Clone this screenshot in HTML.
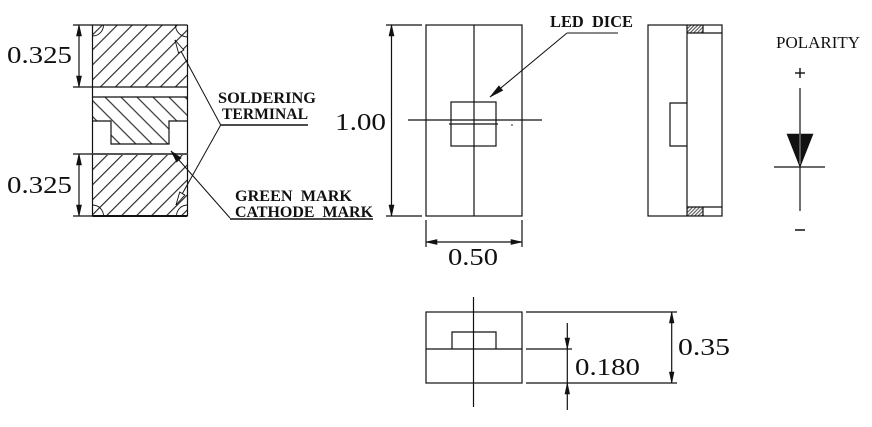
<!DOCTYPE html>
<html><head><meta charset="utf-8"><style>
html,body{margin:0;padding:0;background:#fff;}
svg{display:block;}
</style></head><body>
<svg width="872" height="427" viewBox="0 0 872 427" xmlns="http://www.w3.org/2000/svg">
<defs>
<pattern id="hf" patternUnits="userSpaceOnUse" width="10.6" height="10.6" patternTransform="rotate(45)">
<line x1="5.3" y1="0" x2="5.3" y2="10.6" stroke="#222" stroke-width="1.1"/>
</pattern>
<pattern id="hb" patternUnits="userSpaceOnUse" width="11.3" height="11.3" patternTransform="rotate(-45)">
<line x1="5.6" y1="0" x2="5.6" y2="11.3" stroke="#222" stroke-width="1.1"/>
</pattern>
<pattern id="hs" patternUnits="userSpaceOnUse" width="2.5" height="2.5" patternTransform="rotate(45)">
<line x1="1.25" y1="0" x2="1.25" y2="2.5" stroke="#333" stroke-width="0.9"/>
</pattern>
</defs>

<g fill="none" stroke="#111" stroke-width="1.2">
<!-- LEFT COMPONENT -->
<rect x="92.5" y="25" width="95" height="62" fill="url(#hf)" stroke="none"/>
<path d="M92.5,97 H187.5 V121 H169 V144 H111 V121 H92.5 Z" fill="url(#hb)" stroke="none"/>
<rect x="92.5" y="154" width="95" height="62" fill="url(#hf)" stroke="none"/>
<line x1="92.5" y1="25" x2="92.5" y2="216"/>
<line x1="187.5" y1="25" x2="187.5" y2="216"/>
<line x1="92.5" y1="25" x2="187.5" y2="25"/>
<line x1="92.5" y1="87" x2="187.5" y2="87"/>
<line x1="92.5" y1="97" x2="187.5" y2="97"/>
<path d="M92.5,121 H111 V144 H169 V121 H187.5"/>
<line x1="92.5" y1="154" x2="187.5" y2="154" stroke="#555" stroke-width="2"/>
<line x1="92.5" y1="216" x2="187.5" y2="216" stroke-width="2"/>
<!-- corner arcs -->
<path d="M92.5,36 A11,11 0 0 0 103.5,25" stroke-width="0.9"/>
<path d="M175.5,25 A12,12 0 0 0 187.5,37" stroke-width="0.9"/>
<path d="M92.5,205 A11,11 0 0 1 103.5,216" stroke-width="0.9"/>
<path d="M176.5,216 A11,11 0 0 1 187.5,205" stroke-width="0.9"/>

<!-- 0.325 dims -->
<line x1="73" y1="25" x2="92.5" y2="25"/>
<line x1="73" y1="87" x2="92.5" y2="87"/>
<line x1="79" y1="25" x2="79" y2="87"/>
<line x1="73" y1="154" x2="92.5" y2="154"/>
<line x1="73" y1="216" x2="92.5" y2="216"/>
<line x1="79" y1="154" x2="79" y2="216"/>

<!-- leaders -->
<line x1="175" y1="40" x2="220.7" y2="125" stroke-width="1"/>
<line x1="176" y1="205" x2="220.7" y2="125" stroke-width="1"/>
<line x1="220.7" y1="125" x2="308" y2="125" stroke-width="1.5"/>
<line x1="171" y1="151" x2="230" y2="218" stroke-width="1"/>
<line x1="230" y1="219" x2="373" y2="219" stroke-width="1.5"/>

<!-- FRONT VIEW -->
<rect x="426" y="25" width="96" height="191"/>
<line x1="474" y1="25" x2="474" y2="216"/>
<rect x="451" y="102" width="45" height="44"/>
<line x1="408" y1="120" x2="542" y2="120"/>
<line x1="449" y1="124" x2="498" y2="124"/>
<line x1="386" y1="25" x2="422" y2="25"/>
<line x1="386" y1="216" x2="422" y2="216"/>
<line x1="391.5" y1="25" x2="391.5" y2="216"/>
<line x1="426" y1="220" x2="426" y2="247"/>
<line x1="522" y1="220" x2="522" y2="247"/>
<line x1="426" y1="242" x2="522" y2="242"/>
<line x1="490" y1="97" x2="567" y2="33" stroke-width="1"/>
<line x1="567" y1="33" x2="618" y2="33" stroke-width="1"/>

<!-- SIDE VIEW -->
<rect x="687" y="25" width="16" height="8" fill="url(#hs)" stroke="none"/>
<rect x="687" y="207" width="16" height="9" fill="url(#hs)" stroke="none"/>
<rect x="648" y="25" width="74" height="191"/>
<line x1="687" y1="25" x2="687" y2="216"/>
<line x1="687" y1="33" x2="722" y2="33"/>
<line x1="687" y1="207" x2="722" y2="207"/>
<line x1="703" y1="25" x2="703" y2="33"/>
<line x1="703" y1="207" x2="703" y2="216"/>
<path d="M687,103 H670 V146 H687"/>

<!-- DIODE -->
<line x1="800" y1="88" x2="800" y2="211"/>
<line x1="774" y1="167" x2="825" y2="167"/>

<!-- BOTTOM VIEW -->
<rect x="426" y="312" width="96" height="71"/>
<line x1="426" y1="349" x2="522" y2="349"/>
<path d="M452,349 V332 H496 V349"/>
<line x1="473.5" y1="297" x2="473.5" y2="407"/>
<line x1="526" y1="312" x2="677" y2="312"/>
<line x1="526" y1="349" x2="572" y2="349"/>
<line x1="526" y1="383" x2="677" y2="383"/>
<line x1="567.3" y1="323" x2="567.3" y2="410"/>
<line x1="671.7" y1="312" x2="671.7" y2="383"/>
</g>

<!-- arrowheads -->
<g fill="#111" stroke="#111" stroke-width="0.6">
<polygon points="79,25 76.5,36 81.5,36"/>
<polygon points="79,87 76.5,76 81.5,76"/>
<polygon points="79,154 76.5,165 81.5,165"/>
<polygon points="79,216 76.5,205 81.5,205"/>
<polygon points="391.5,25 389,36 394,36"/>
<polygon points="391.5,216 389,205 394,205"/>
<polygon points="426,242 437,239.5 437,244.5"/>
<polygon points="522,242 511,239.5 511,244.5"/>
<polygon points="567.3,349 565,338 569.6,338"/>
<polygon points="567.3,383 565,394 569.6,394"/>
<polygon points="671.7,312 669.4,323 674,323"/>
<polygon points="671.7,383 669.4,372 674,372"/>
<polygon points="171,151 176.7,162 181.2,158"/>
<polygon points="490,97 502.7,90.4 498.9,85.8"/>
<polygon points="787,134 813,134 800,167"/>
</g>
<g fill="#fff" stroke="#111" stroke-width="0.9">
<polygon points="175,40 178.5,52.9 183.8,50.1"/>
<polygon points="176,205 184.9,195.1 179.7,192.1"/>
</g>
<line x1="800" y1="134" x2="800" y2="164" stroke="#fff" stroke-width="0.6"/>
<circle cx="512" cy="125" r="0.8" fill="#111"/>

<!-- text -->
<g font-family="'Liberation Serif', serif" fill="#111">
<text x="7" y="63" font-size="24" textLength="65" lengthAdjust="spacingAndGlyphs">0.325</text>
<text x="7" y="193" font-size="24" textLength="65" lengthAdjust="spacingAndGlyphs">0.325</text>
<text x="335" y="130" font-size="24" textLength="51" lengthAdjust="spacingAndGlyphs">1.00</text>
<text x="448" y="265" font-size="24" textLength="50" lengthAdjust="spacingAndGlyphs">0.50</text>
<text x="575" y="375" font-size="24" textLength="65" lengthAdjust="spacingAndGlyphs">0.180</text>
<text x="678" y="355" font-size="24" textLength="52" lengthAdjust="spacingAndGlyphs">0.35</text>
<g font-weight="bold" font-size="16">
<text x="218" y="103" textLength="98" lengthAdjust="spacingAndGlyphs">SOLDERING</text>
<text x="222" y="119" textLength="86" lengthAdjust="spacingAndGlyphs">TERMINAL</text>
<text x="235" y="201" textLength="117" lengthAdjust="spacingAndGlyphs" xml:space="preserve">GREEN  MARK</text>
<text x="235" y="217" textLength="138" lengthAdjust="spacingAndGlyphs" xml:space="preserve">CATHODE  MARK</text>
<text x="550" y="27" font-size="17" textLength="83" lengthAdjust="spacingAndGlyphs" xml:space="preserve">LED  DICE</text>
</g>
<text x="776" y="48" font-size="17" textLength="84" lengthAdjust="spacingAndGlyphs">POLARITY</text>
<line x1="795" y1="73" x2="805" y2="73" stroke="#111" stroke-width="1.4"/>
<line x1="800" y1="68" x2="800" y2="78" stroke="#111" stroke-width="1.4"/>
<line x1="795" y1="230" x2="805" y2="230" stroke="#111" stroke-width="1.5"/>
</g>
</svg>
</body></html>
